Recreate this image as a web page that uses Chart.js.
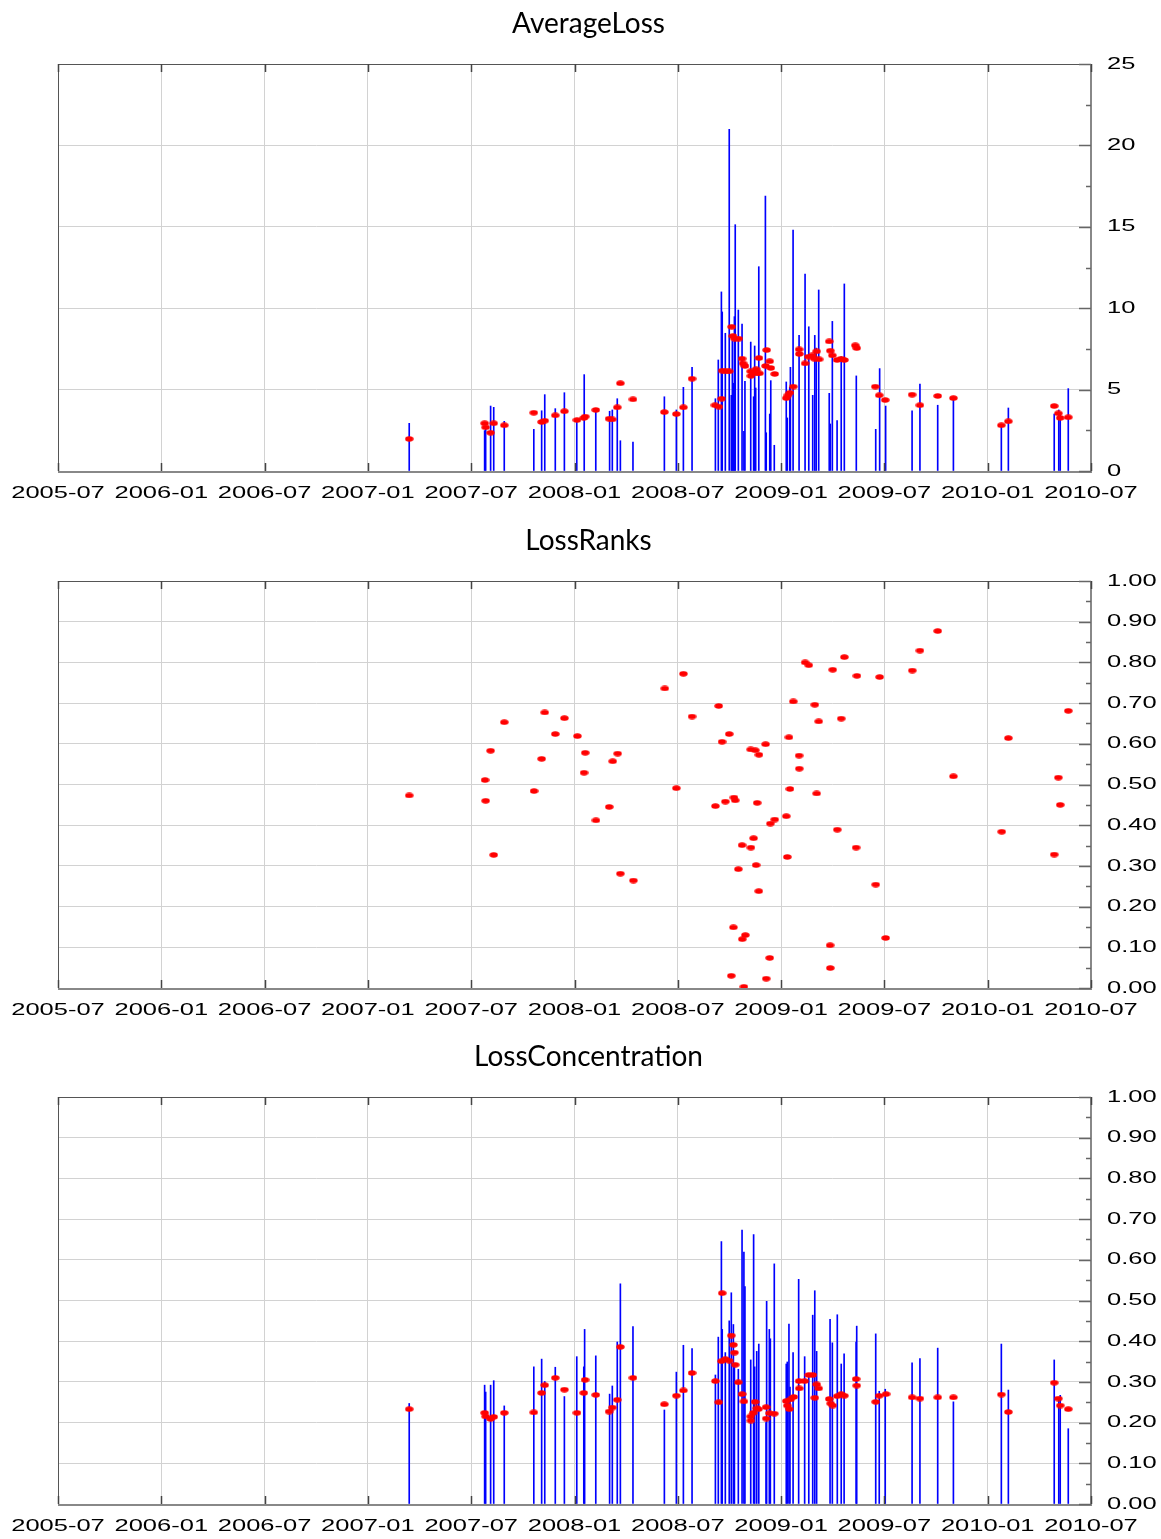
<!DOCTYPE html>
<html><head><meta charset="utf-8">
<script src="https://cdn.jsdelivr.net/npm/chart.js@4/dist/chart.umd.min.js"></script>
<style>
html,body{margin:0;padding:0;background:#fff;}
#wrap{position:relative;width:1161px;height:1539px;overflow:hidden;}
.panel{position:absolute;left:0;width:1161px;}
canvas{display:block;}
</style></head><body>
<div id="wrap">
<div class="panel" style="top:0;height:516px"><canvas id="c1" width="1161" height="516"></canvas></div>
<div class="panel" style="top:517px;height:516px"><canvas id="c2" width="1161" height="516"></canvas></div>
<div class="panel" style="top:1033px;height:506px"><canvas id="c3" width="1161" height="506"></canvas></div>
</div>
<script>
// ---------------- DATA ----------------
const xTickLabels = ['2005-07','2006-01','2006-07','2007-01','2007-07','2008-01','2008-07','2009-01','2009-07','2010-01','2010-07'];
const panelTitles = ['AverageLoss','LossRanks','LossConcentration'];

// AverageLoss: blue spikes
const lossBarYears = [2007.200,2007.565,2007.570,2007.594,2007.609,2007.660,2007.803,2007.841,2007.856,2007.907,2007.951,2008.011,2008.047,2008.103,2008.170,2008.183,2008.207,2008.222,2008.283,2008.435,2008.493,2008.527,2008.569,2008.682,2008.696,2008.711,2008.715,2008.730,2008.749,2008.759,2008.764,2008.769,2008.774,2008.778,2008.793,2008.811,2008.820,2008.825,2008.853,2008.867,2008.872,2008.877,2008.892,2008.924,2008.928,2008.945,2008.950,2008.967,2009.025,2009.030,2009.042,2009.045,2009.058,2009.087,2009.116,2009.134,2009.153,2009.163,2009.170,2009.182,2009.233,2009.238,2009.248,2009.271,2009.291,2009.306,2009.364,2009.458,2009.477,2009.506,2009.634,2009.672,2009.758,2009.834,2010.066,2010.100,2010.322,2010.344,2010.351,2010.390];
const lossBarValues = [2.93,2.48,2.70,3.99,3.91,3.05,2.56,3.70,4.69,3.83,4.81,3.13,5.92,3.75,3.67,3.75,4.44,1.86,1.78,4.56,3.75,5.14,6.37,4.44,6.82,11.0,9.77,8.46,20.99,4.65,8.0,5.39,9.48,15.13,9.89,9.03,2.44,5.51,7.92,4.56,7.68,5.10,12.55,16.89,2.35,3.50,5.55,1.58,5.47,3.26,5.14,6.37,14.80,8.33,12.10,8.86,4.65,8.33,7.55,11.12,4.77,2.89,9.19,3.09,7.02,11.49,5.84,2.56,6.29,3.99,3.70,5.34,4.04,4.48,2.72,3.87,3.50,3.75,3.42,5.06];
// AverageLoss: red dots
const lossDotYears = [2007.200,2007.565,2007.570,2007.594,2007.609,2007.660,2007.803,2007.841,2007.856,2007.907,2007.951,2008.012,2008.045,2008.052,2008.103,2008.167,2008.183,2008.207,2008.222,2008.283,2008.435,2008.493,2008.527,2008.569,2008.680,2008.699,2008.712,2008.715,2008.732,2008.749,2008.761,2008.767,2008.775,2008.795,2008.811,2008.816,2008.825,2008.853,2008.854,2008.865,2008.879,2008.882,2008.893,2008.895,2008.925,2008.930,2008.945,2008.950,2008.969,2009.025,2009.033,2009.043,2009.059,2009.087,2009.088,2009.116,2009.132,2009.151,2009.161,2009.172,2009.184,2009.233,2009.238,2009.248,2009.271,2009.291,2009.306,2009.359,2009.366,2009.456,2009.475,2009.504,2009.634,2009.672,2009.758,2009.834,2010.066,2010.100,2010.322,2010.342,2010.351,2010.390];
const lossDotValues = [1.97,2.93,2.68,2.35,2.93,2.81,3.58,3.01,3.09,3.42,3.67,3.13,3.26,3.34,3.75,3.21,3.17,3.91,5.39,4.40,3.62,3.50,3.91,5.67,4.04,3.95,4.44,6.16,6.12,6.12,8.86,8.29,8.13,8.13,6.90,6.61,6.45,6.12,5.84,6.04,6.25,6.00,6.94,6.00,6.45,7.43,6.74,6.33,5.96,4.48,4.65,4.81,5.18,7.47,7.19,6.61,7.02,7.10,6.90,7.35,6.86,7.96,7.39,7.10,6.82,6.90,6.82,7.72,7.55,5.18,4.65,4.36,4.69,4.04,4.61,4.48,2.81,3.05,3.99,3.54,3.26,3.30];

// LossRanks: red dots
const rankDotYears = [2007.200,2007.567,2007.570,2007.594,2007.609,2007.660,2007.804,2007.841,2007.856,2007.907,2007.951,2008.014,2008.046,2008.052,2008.104,2008.168,2008.185,2008.209,2008.222,2008.285,2008.437,2008.493,2008.527,2008.569,2008.682,2008.698,2008.714,2008.730,2008.749,2008.759,2008.769,2008.772,2008.778,2008.793,2008.811,2008.812,2008.820,2008.827,2008.853,2008.854,2008.867,2008.875,2008.879,2008.884,2008.893,2008.892,2008.925,2008.928,2008.945,2008.948,2008.969,2009.025,2009.030,2009.038,2009.043,2009.059,2009.087,2009.088,2009.116,2009.134,2009.163,2009.172,2009.182,2009.237,2009.238,2009.250,2009.272,2009.291,2009.306,2009.363,2009.367,2009.458,2009.477,2009.506,2009.635,2009.672,2009.758,2009.834,2010.068,2010.100,2010.322,2010.342,2010.351,2010.390];
const rankDotValues = [0.473,0.511,0.460,0.583,0.327,0.653,0.484,0.563,0.677,0.624,0.663,0.619,0.529,0.578,0.412,0.445,0.557,0.576,0.281,0.264,0.736,0.491,0.772,0.667,0.447,0.693,0.605,0.458,0.624,0.030,0.149,0.468,0.461,0.292,0.351,0.120,0.003,0.130,0.586,0.345,0.368,0.584,0.302,0.455,0.573,0.238,0.599,0.023,0.074,0.404,0.414,0.422,0.322,0.616,0.489,0.704,0.571,0.539,0.800,0.793,0.696,0.478,0.655,0.105,0.049,0.782,0.389,0.662,0.813,0.345,0.767,0.254,0.764,0.123,0.780,0.829,0.877,0.520,0.384,0.614,0.328,0.517,0.450,0.681];

// LossConcentration: blue spikes
const concBarYears = [2007.200,2007.565,2007.570,2007.594,2007.609,2007.660,2007.803,2007.841,2007.856,2007.907,2007.951,2008.011,2008.045,2008.049,2008.103,2008.170,2008.183,2008.207,2008.222,2008.283,2008.435,2008.493,2008.527,2008.569,2008.682,2008.696,2008.711,2008.715,2008.730,2008.749,2008.759,2008.769,2008.774,2008.793,2008.811,2008.820,2008.825,2008.853,2008.867,2008.872,2008.882,2008.892,2008.927,2008.930,2008.943,2008.948,2008.967,2009.025,2009.030,2009.038,2009.043,2009.058,2009.085,2009.114,2009.134,2009.153,2009.163,2009.172,2009.237,2009.248,2009.272,2009.291,2009.305,2009.363,2009.366,2009.458,2009.475,2009.504,2009.634,2009.672,2009.758,2009.834,2010.066,2010.100,2010.322,2010.344,2010.351,2010.390];
const concBarValues = [0.247,0.292,0.275,0.292,0.303,0.241,0.337,0.356,0.301,0.336,0.264,0.362,0.337,0.429,0.364,0.270,0.290,0.398,0.541,0.436,0.231,0.324,0.390,0.382,0.317,0.410,0.645,0.429,0.372,0.450,0.519,0.441,0.337,0.331,0.673,0.619,0.534,0.354,0.662,0.337,0.375,0.393,0.200,0.498,0.429,0.406,0.590,0.344,0.349,0.442,0.287,0.372,0.552,0.362,0.318,0.464,0.524,0.375,0.454,0.396,0.465,0.344,0.369,0.398,0.437,0.418,0.277,0.282,0.347,0.357,0.383,0.251,0.393,0.280,0.354,0.260,0.267,0.185];
// LossConcentration: red dots
const concDotYears = [2007.200,2007.565,2007.570,2007.594,2007.609,2007.660,2007.803,2007.841,2007.856,2007.907,2007.951,2008.012,2008.045,2008.051,2008.103,2008.167,2008.183,2008.207,2008.222,2008.283,2008.435,2008.493,2008.527,2008.569,2008.682,2008.698,2008.711,2008.715,2008.730,2008.749,2008.759,2008.769,2008.774,2008.778,2008.793,2008.811,2008.820,2008.853,2008.854,2008.865,2008.874,2008.882,2008.890,2008.927,2008.928,2008.943,2008.967,2009.025,2009.030,2009.040,2009.046,2009.061,2009.087,2009.088,2009.114,2009.134,2009.153,2009.163,2009.172,2009.182,2009.233,2009.240,2009.250,2009.272,2009.291,2009.306,2009.363,2009.366,2009.458,2009.475,2009.508,2009.634,2009.672,2009.758,2009.834,2010.066,2010.100,2010.322,2010.342,2010.351,2010.390];
const concDotValues = [0.233,0.224,0.215,0.209,0.214,0.224,0.225,0.273,0.292,0.310,0.281,0.224,0.273,0.305,0.268,0.227,0.237,0.256,0.386,0.310,0.245,0.266,0.279,0.322,0.302,0.250,0.351,0.518,0.356,0.352,0.414,0.391,0.372,0.342,0.299,0.270,0.252,0.215,0.205,0.224,0.251,0.235,0.233,0.238,0.210,0.223,0.222,0.253,0.242,0.233,0.257,0.263,0.302,0.284,0.302,0.317,0.317,0.261,0.294,0.284,0.258,0.247,0.242,0.265,0.270,0.266,0.307,0.291,0.251,0.266,0.270,0.262,0.259,0.262,0.262,0.269,0.226,0.298,0.259,0.242,0.233];

// -------------- RENDERING --------------
// stretched tick-label text (the reference's labels are horizontally widened)
(function(){
  const orig = CanvasRenderingContext2D.prototype.fillText;
  CanvasRenderingContext2D.prototype.fillText = function(t, x, y, mw){
    if (typeof this.font === 'string' && this.font.indexOf('Liberation Sans') >= 0) {
      this.save(); this.translate(x, y); this.scale(1.5, 1);
      orig.call(this, t, 0, 0); this.restore();
    } else if (mw !== undefined) { orig.call(this, t, x, y, mw); }
    else { orig.call(this, t, x, y); }
  };
})();

const dotImg = document.createElement('canvas');
dotImg.width = 9; dotImg.height = 6;
(function(){ const c = dotImg.getContext('2d'); c.fillStyle = '#ff0000'; c.beginPath(); c.ellipse(4.5, 3, 4.2, 2.7, 0, 0, Math.PI*2); c.fill(); })();

function pairs(xs, ys){ return xs.map((x, i) => ({x: x, y: ys[i]})); }

const majorLoss = v => Math.abs(Math.round(v * 2) % 10) === 0;
const majorUnit = v => Math.abs(Math.round(v * 100) % 10) === 0;

function makeFramePlugin(isMajor){
  return {
    id: 'frameTicks',
    afterDraw(chart){
      const ctx = chart.ctx, a = chart.chartArea;
      const xs = chart.scales.x, ys = chart.scales.y;
      ctx.save();
      ctx.strokeStyle = '#555'; ctx.lineWidth = 1;
      ctx.strokeRect(a.left + 0.5, a.top + 0.5, a.right - a.left - 1, a.bottom - a.top);
      ctx.strokeStyle = '#888'; ctx.lineWidth = 2;
      ctx.beginPath(); ctx.moveTo(a.right, a.top); ctx.lineTo(a.right, a.bottom + 1); ctx.lineTo(a.left, a.bottom + 1); ctx.stroke();
      ctx.strokeStyle = '#444'; ctx.lineWidth = 1.5;
      xs.ticks.forEach(t => {
        const px = Math.round(xs.getPixelForValue(t.value)) + 0.5;
        ctx.beginPath(); ctx.moveTo(px, a.bottom); ctx.lineTo(px, a.bottom - 8);
        ctx.moveTo(px, a.top); ctx.lineTo(px, a.top + 8); ctx.stroke();
      });
      ctx.strokeStyle = '#666'; ctx.lineWidth = 1.5;
      ys.ticks.forEach(t => {
        const py = Math.round(ys.getPixelForValue(t.value)) + 0.5;
        const len = isMajor(t.value) ? 12 : 5;
        ctx.beginPath(); ctx.moveTo(a.right, py); ctx.lineTo(a.right - len, py); ctx.stroke();
      });
      ctx.restore();
    }
  };
}

function makePanel(id, title, yMax, yStep, isMajor, fmt, bars, dots, axisH){
  const datasets = [];
  datasets.push({type: 'scatter', data: dots, xAxisID: 'x', yAxisID: 'y', pointStyle: dotImg, pointRadius: 4, order: 0, showLine: false});
  if (bars) datasets.push({type: 'bar', data: bars, xAxisID: 'x', yAxisID: 'y', backgroundColor: '#0000ff', borderWidth: 0, barThickness: 1, grouped: false, order: 1});
  new Chart(document.getElementById(id), {
    type: bars ? 'bar' : 'scatter',
    data: {datasets: datasets},
    plugins: [makeFramePlugin(isMajor)],
    options: {
      responsive: false, animation: false, devicePixelRatio: 1, events: [],
      layout: {padding: {left: 16, right: 0, top: 0, bottom: 0}},
      plugins: {
        legend: {display: false}, tooltip: {enabled: false},
        title: {display: true, text: title, color: '#000', font: {family: 'Lato', size: 28, weight: 'normal'}, padding: {top: 7, bottom: 23.4}}
      },
      scales: {
        x: {
          type: 'linear', min: 2005.5, max: 2010.5, offset: false,
          afterFit: s => { s.height = axisH; },
          border: {display: false},
          grid: {color: '#d2d2d2', lineWidth: 1, drawTicks: false, offset: false},
          ticks: {stepSize: 0.5, autoSkip: false, maxRotation: 0, padding: 12, color: '#000',
                  font: {family: 'Liberation Sans', size: 17},
                  callback: (v, i) => xTickLabels[i]}
        },
        y: {
          type: 'linear', position: 'right', min: 0, max: yMax,
          afterFit: s => { s.width = 70; },
          border: {display: false},
          grid: {color: c => isMajor(c.tick.value) ? '#d2d2d2' : 'rgba(0,0,0,0)', lineWidth: 1, drawTicks: false},
          ticks: {stepSize: yStep, autoSkip: false, padding: 16, color: '#000',
                  font: {family: 'Liberation Sans', size: 17},
                  callback: v => isMajor(v) ? fmt(v) : ''}
        },
        yLeft: {
          type: 'linear', position: 'left', min: 0, max: 1, display: true,
          afterFit: s => { s.width = 42; },
          border: {display: false},
          grid: {drawOnChartArea: false, drawTicks: false},
          ticks: {display: false}
        }
      }
    }
  });
}

makePanel('c1', panelTitles[0], 25, 2.5, majorLoss, v => String(Math.round(v)),
  pairs(lossBarYears, lossBarValues), pairs(lossDotYears, lossDotValues), 45);
makePanel('c2', panelTitles[1], 1, 0.05, majorUnit, v => v.toFixed(2),
  null, pairs(rankDotYears, rankDotValues), 45);
makePanel('c3', panelTitles[2], 1, 0.05, majorUnit, v => v.toFixed(2),
  pairs(concBarYears, concBarValues), pairs(concDotYears, concDotValues), 35);
</script>
</body></html>
